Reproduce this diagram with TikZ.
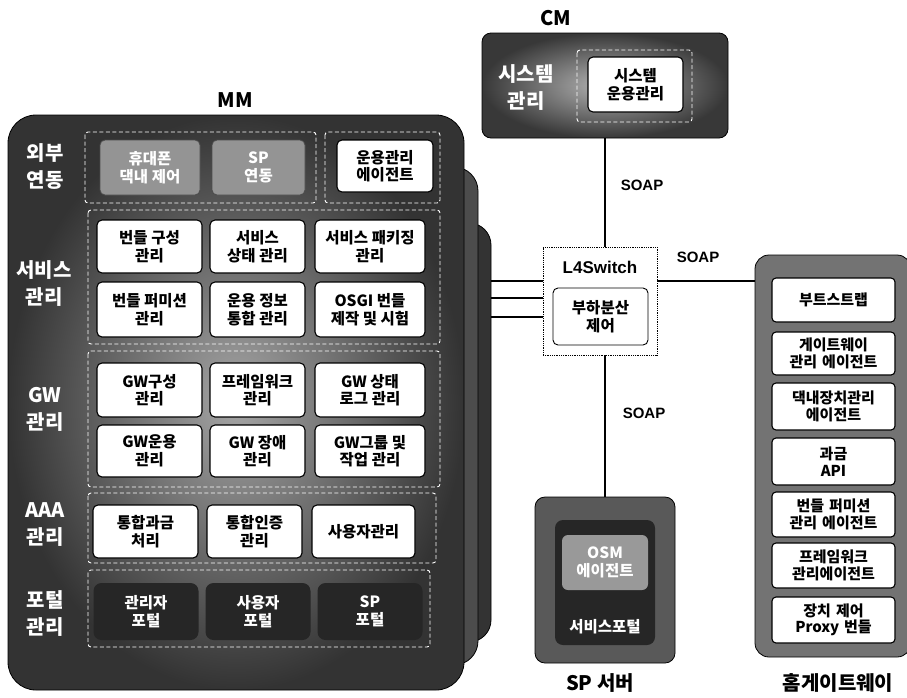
\documentclass[tikz,border=0pt]{standalone}
\usepackage{fontspec}
\setmainfont{Noto Sans CJK KR}
\newfontfamily\lat{Liberation Sans}
\usetikzlibrary{shapes.geometric}
\tikzset{
  x=1pt,y=-1pt,
  bxfont/.style={font=\bfseries\fontsize{15.5}{17.5}\selectfont},
  wbox/.style={draw=black,line width=1.1pt,fill=white,rounded corners=5pt,align=center,
    bxfont,inner sep=1pt},
  gbox/.style={draw=black!70,line width=0.8pt,fill=black!42,rounded corners=5pt,align=center,
    text=white,bxfont,inner sep=1pt},
  dbox/.style={fill=black!85,rounded corners=8pt,align=center,
    text=white,bxfont,inner sep=1pt},
  rowlab/.style={text=white,align=center,font=\bfseries\fontsize{20}{27}\selectfont},
  frame/.style={draw=white,line width=0.9pt,rounded corners=3pt,dash pattern=on 4pt off 2.5pt},
  ttl/.style={font=\bfseries\fontsize{20}{22}\selectfont},
  soap/.style={font=\lat\bfseries\fontsize{15}{17}\selectfont},
  conn/.style={line width=1.6pt,black},
  hgbox/.style={draw=black,line width=1.1pt,fill=white,rounded corners=4pt,align=center,
    font=\bfseries\fontsize{15}{16.5}\selectfont,inner sep=1pt,minimum width=123,text width=120},
}
\begin{document}
\begin{tikzpicture}
\useasboundingbox (0,0) rectangle (907,697);
% ---------------- MM stack ----------------
\node[ttl] (mmt) at (235,100) {MM};
\fill[black!80,rounded corners=22pt] (40,223) rectangle (491,642);
\draw[black,line width=0.8pt,rounded corners=22pt] (40,223) rectangle (491,642);
\fill[black!70,rounded corners=24pt] (25,167) rectangle (478,665);
\draw[black,line width=0.8pt,rounded corners=24pt] (25,167) rectangle (478,665);
\shade[inner color=black!35,outer color=black!80,rounded corners=28pt] (8,115) rectangle (464,690);
\draw[black,line width=0.8pt,rounded corners=28pt] (8,115) rectangle (464,690);
\coordinate (mmr1) at (491,281);
\coordinate (mmr2) at (491,298);
\coordinate (mmr3) at (491,317);
% row labels
\node[rowlab] (l1) at (45,167) {외부\\연동};
\node[rowlab] (l2) at (44,284) {서비스\\관리};
\node[rowlab] (l3) at (45,409) {GW\\관리};
\node[rowlab] (l4lab) at (45,525) {AAA\\관리};
\node[rowlab] (l5) at (45,614) {포털\\관리};
% frames
\draw[frame] (85,132) rectangle (316,203);
\draw[frame] (325,132) rectangle (440,203);
\draw[frame] (88,210) rectangle (440,344);
\draw[frame] (88,351) rectangle (440,487);
\draw[frame] (88,493) rectangle (436,563);
\draw[frame] (88,570) rectangle (430,647);
% external row
\node[gbox,minimum width=100,minimum height=55] (e1) at (150,167.5) {휴대폰\\댁내 제어};
\node[gbox,minimum width=93,minimum height=55] (e2) at (258.5,167.5) {SP\\연동};
\node[wbox,minimum width=96,minimum height=52] (e3) at (385,166) {운용관리\\에이전트};
% service rows
\node[wbox,minimum width=105,minimum height=53] (s11) at (149.5,246.5) {번들 구성\\관리};
\node[wbox,minimum width=95,minimum height=53] (s12) at (257.5,246.5) {서비스\\상태 관리};
\node[wbox,minimum width=110,minimum height=53] (s13) at (370,246.5) {서비스 패키징\\관리};
\node[wbox,minimum width=105,minimum height=55] (s21) at (149.5,309.5) {번들 퍼미션\\관리};
\node[wbox,minimum width=95,minimum height=55] (s22) at (257.5,309.5) {운용 정보\\통합 관리};
\node[wbox,minimum width=110,minimum height=55] (s23) at (370,309.5) {OSGI 번들\\제작 및 시험};
% GW rows
\node[wbox,minimum width=105,minimum height=54] (g11) at (149.5,390) {GW구성\\관리};
\node[wbox,minimum width=95,minimum height=54] (g12) at (257.5,390) {프레임워크\\관리};
\node[wbox,minimum width=110,minimum height=54] (g13) at (370,390) {GW 상태\\로그 관리};
\node[wbox,minimum width=105,minimum height=52] (g21) at (149.5,451) {GW운용\\관리};
\node[wbox,minimum width=95,minimum height=52] (g22) at (257.5,451) {GW 장애\\관리};
\node[wbox,minimum width=110,minimum height=52] (g23) at (370,451) {GW그룹 및\\작업 관리};
% AAA row
\node[wbox,minimum width=105,minimum height=53] (a1) at (145.5,531.5) {통합과금\\처리};
\node[wbox,minimum width=95,minimum height=53] (a2) at (254.5,531.5) {통합인증\\관리};
\node[wbox,minimum width=103,minimum height=53] (a3) at (363.5,531.5) {사용자관리};
% portal row
\node[dbox,minimum width=105,minimum height=57] (p1) at (146,611.5) {관리자\\포털};
\node[dbox,minimum width=105,minimum height=57] (p2) at (258,611.5) {사용자\\포털};
\node[dbox,minimum width=105,minimum height=57] (p3) at (370,611.5) {SP\\포털};
% ---------------- CM ----------------
\node[ttl] (cmt) at (556,18) {CM};
\node[draw=black,line width=0.8pt,rounded corners=9pt,minimum width=246,minimum height=105,
  inner color=black!30,outer color=black!78] (cm) at (605,85.5) {};
\node[rowlab] (cml) at (526,88) {시스템\\관리};
\draw[frame] (577,50) rectangle (692,122);
\node[wbox,minimum width=95,minimum height=55] (cmi) at (635.5,84.5) {시스템\\운용관리};
% ---------------- L4Switch ----------------
\node[draw=black,line width=0.8pt,densely dotted,fill=white,minimum width=114,minimum height=108] (l4) at (600,301) {};
\node[font=\lat\bfseries\fontsize{17}{19}\selectfont] (l4t) at (600,267) {L4Switch};
\node[draw=black,line width=0.9pt,rounded corners=5pt,fill=white,minimum width=95,minimum height=57,align=center,
  bxfont,inner sep=1pt] (lb) at (600.5,316.5) {부하분산\\제어};
% ---------------- SP server ----------------
\node[draw=black,line width=0.8pt,fill=black!65,rounded corners=10pt,minimum width=140,minimum height=166] (sp) at (605,580) {};
\node[fill=black!85,rounded corners=8pt,minimum width=100,minimum height=125] (spi) at (605,582.5) {};
\node[fill=black!40,rounded corners=6pt,minimum width=86,minimum height=55,align=center,text=white,
  bxfont,inner sep=1pt] (osm) at (605,562.5) {OSM\\에이전트};
\node[text=white,bxfont] (spp) at (605,627) {서비스포털};
\node[ttl] (spt) at (600,683) {SP 서버};
% ---------------- Home gateway ----------------
\node[draw=black,line width=0.8pt,fill=black!55,rounded corners=14pt,minimum width=156,minimum height=402] (hg) at (833,456) {};
\node[hgbox,minimum height=44] (h1) at (833.5,300) {부트스트랩};
\node[hgbox,minimum height=43] (h2) at (833.5,353.5) {게이트웨이\\관리 에이전트};
\node[hgbox,minimum height=47] (h3) at (833.5,406.5) {댁내장치관리\\에이전트};
\node[hgbox,minimum height=47] (h4) at (833.5,461.5) {과금\\API};
\node[hgbox,minimum height=45] (h5) at (833.5,514.5) {번들 퍼미션\\관리 에이전트};
\node[hgbox,minimum height=45] (h6) at (833.5,565.5) {프레임워크\\관리에이전트};
\node[hgbox,minimum height=46] (h7) at (833.5,620) {장치 제어\\Proxy 번들};
\node[ttl] (hgt) at (838,683) {홈게이트웨이};
% ---------------- connectors ----------------
\draw[conn] (cm.south) -- (cm.south |- l4.north);
\draw[conn] (sp.north |- l4.south) -- (sp.north);
\draw[conn] (l4.east |- 0,281) -- (hg.west |- 0,281);
\draw[conn] (mmr1) -- (l4.west |- mmr1);
\draw[conn] (mmr2) -- (l4.west |- mmr2);
\draw[conn] (mmr3) -- (l4.west |- mmr3);
\node[soap] (so1) at (642,185) {SOAP};
\node[soap] (so2) at (698,257) {SOAP};
\node[soap] (so3) at (644,413) {SOAP};
\end{tikzpicture}
\end{document}
